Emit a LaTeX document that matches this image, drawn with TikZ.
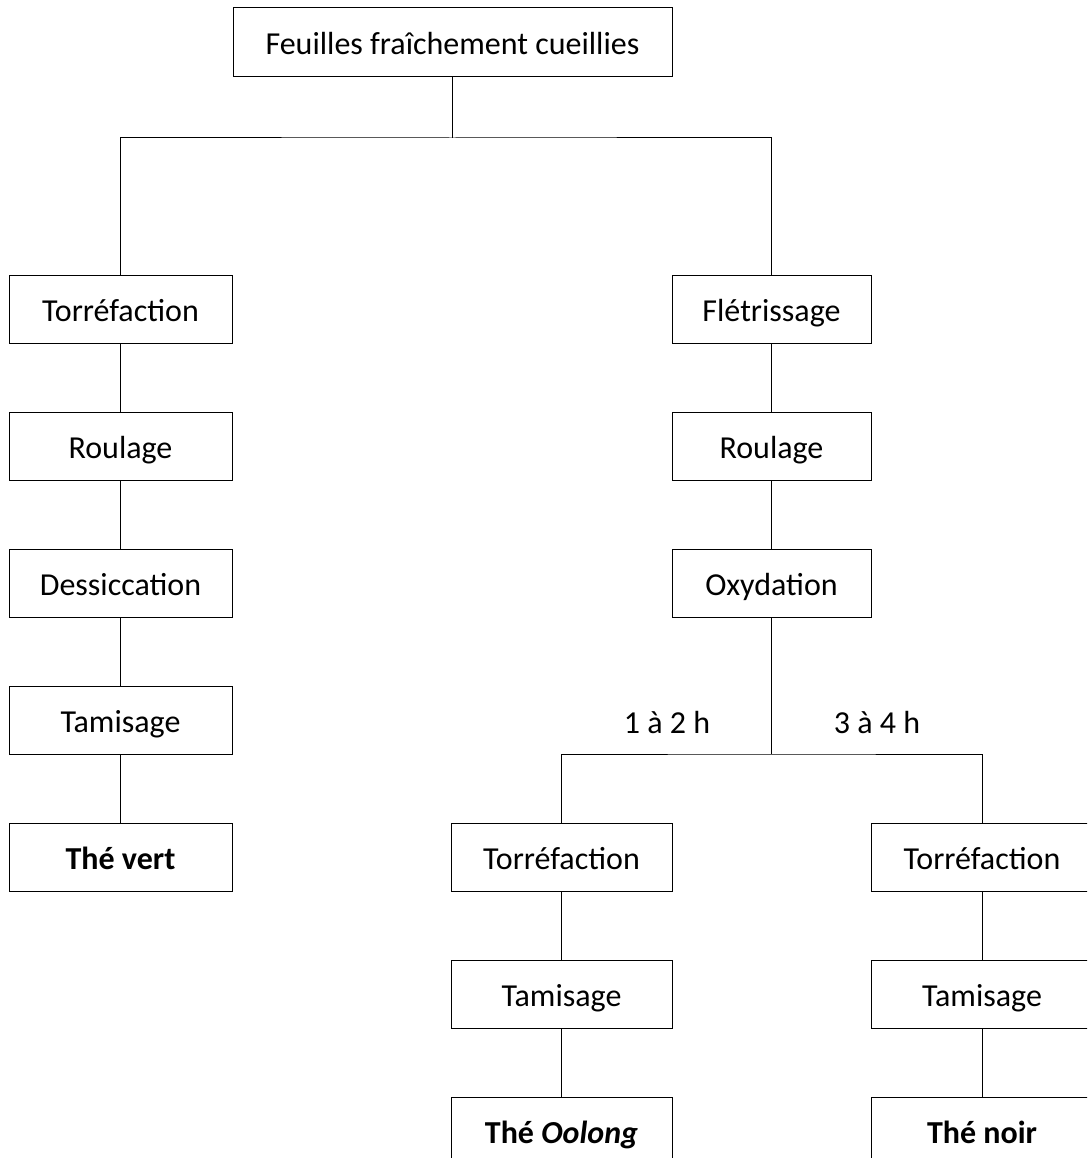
\documentclass[tikz,border=0pt]{standalone}
\usepackage{fontspec}
\setmainfont{Carlito}
\begin{document}
\begin{tikzpicture}[x=1pt,y=-1pt,
  box/.style={draw,line width=1pt,minimum height=68pt,inner sep=0pt,text height=28pt,text depth=4pt,font=\fontsize{32}{36}\selectfont},
  lbox/.style={box,minimum width=223pt},
  rbox/.style={box,minimum width=199pt},
  bbox/.style={box,minimum width=221pt},
  lab/.style={font=\fontsize{32}{36}\selectfont,inner sep=0pt,text height=28pt,text depth=4pt},
  conn/.style={line width=1pt}]
\clip (0,0) rectangle (1087,1158);
\node[box,minimum width=439pt,minimum height=69pt] (top) at (452.5,42.5) {Feuilles fraîchement cueillies};
% left column
\node[lbox] (t1) at (120.5,309) {Torréfaction};
\node[lbox] (r1) at (120.5,446) {Roulage};
\node[lbox] (d1) at (120.5,583) {Dessiccation};
\node[lbox] (ta1) at (120.5,720) {Tamisage};
\node[lbox] (v1) at (120.5,857) {\textbf{Thé vert}};
% right column
\node[rbox] (f2) at (771.5,309) {Flétrissage};
\node[rbox] (r2) at (771.5,446) {Roulage};
\node[rbox] (o2) at (771.5,583) {Oxydation};
% oolong
\node[bbox] (t3) at (561.5,857) {Torréfaction};
\node[bbox] (ta3) at (561.5,994) {Tamisage};
\node[bbox] (oo3) at (561.5,1131) {\textbf{Thé \textit{Oolong}}};
% noir
\node[bbox,minimum width=222pt] (t4) at (982,857) {Torréfaction};
\node[bbox,minimum width=222pt] (ta4) at (982,994) {Tamisage};
\node[bbox,minimum width=222pt] (n4) at (982,1131) {\textbf{Thé noir}};
% labels
\node[lab] (l12) at (667,721) {1 à 2 h};
\node[lab] (l34) at (877,721) {3 à 4 h};
% junctions
\coordinate (j1) at (452.5,138);
\coordinate (j2) at (771.5,754);
% connectors
\draw[conn] (top.south) -- (j1);
\draw[conn] (t1.north) |- (j1) -| (f2.north);
\draw[conn] (t1) -- (r1);
\draw[conn] (r1) -- (d1);
\draw[conn] (d1) -- (ta1);
\draw[conn] (ta1) -- (v1);
\draw[conn] (f2) -- (r2);
\draw[conn] (r2) -- (o2);
\draw[conn] (o2.south) -- (j2);
\draw[conn] (t3.north) |- (j2) -| (t4.north);
\draw[conn] (t3) -- (ta3);
\draw[conn] (ta3) -- (oo3);
\draw[conn] (t4) -- (ta4);
\draw[conn] (ta4) -- (n4);
\end{tikzpicture}
\end{document}
